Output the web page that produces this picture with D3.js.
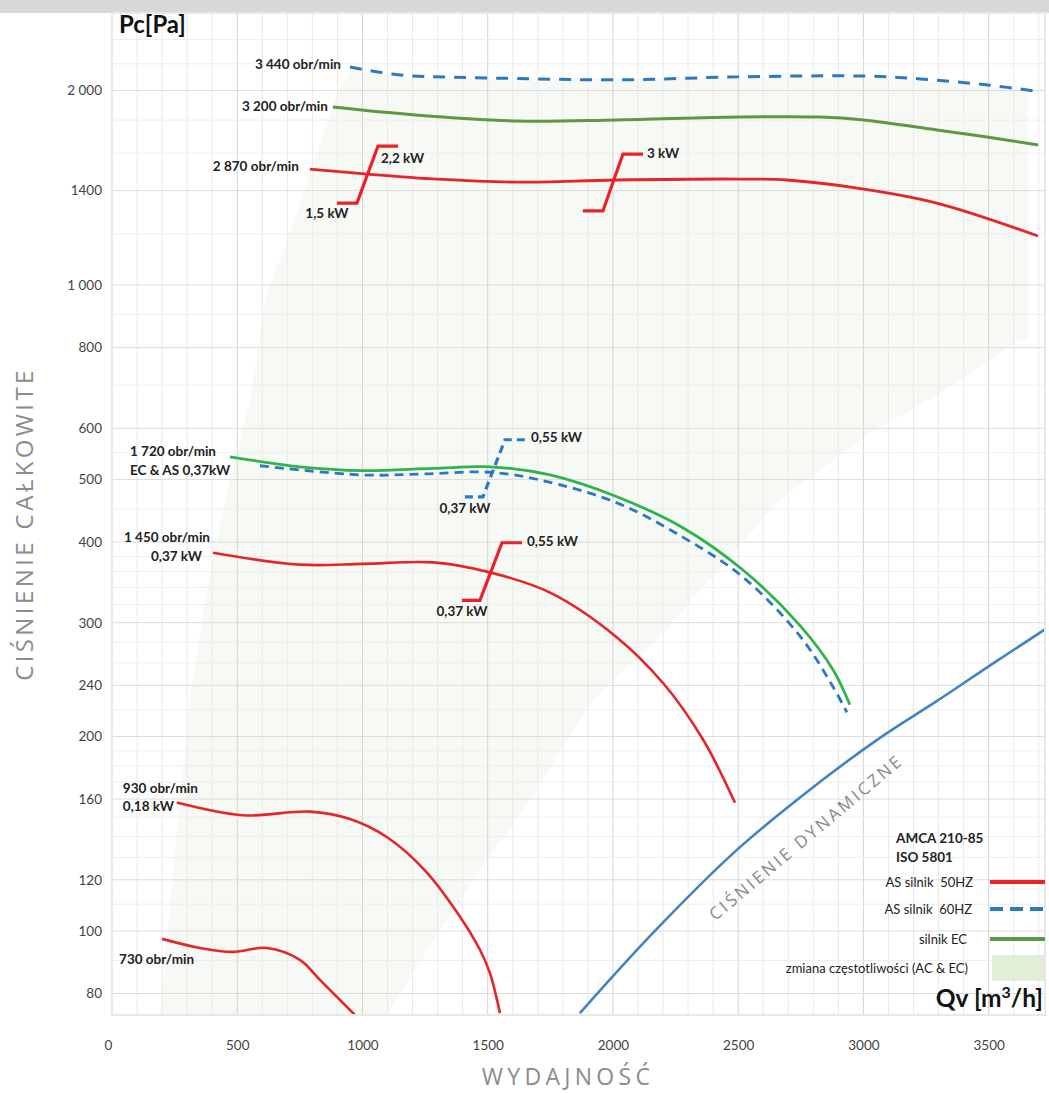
<!DOCTYPE html>
<html>
<head>
<meta charset="utf-8">
<script src="https://cdn.jsdelivr.net/npm/d3@7"></script>
<style>
  html, body { margin: 0; padding: 0; background: #fff; }
  svg { display: block; }
</style>
</head>
<body>
<svg id="chart"></svg>
<script>
// values: Qv [m3/h] and Pc [Pa]
const q3440 = [950, 1150, 1350, 1617, 2016, 2503, 3002, 3226, 3497, 3700];
const p3440 = [2175, 2114, 2098, 2088, 2078, 2100, 2106, 2085, 2040, 1993];

const q3200 = [882, 1200, 1617, 2012, 2503, 2826, 3002, 3293, 3493, 3697];
const p3200 = [1886, 1835, 1794, 1801, 1820, 1820, 1801, 1738, 1695, 1647];

const q2870 = [790, 1018, 1300, 1617, 2012, 2503, 2695, 3002, 3293, 3697];
const p2870 = [1512, 1485, 1458, 1443, 1454, 1459, 1454, 1408, 1339, 1191];

const q1720ec = [471, 750, 1002, 1281, 1509, 1749, 2016, 2279, 2519, 2747, 2878, 2946];
const p1720ec = [542, 523, 516, 520, 523, 508, 470, 421, 362, 297, 254, 224];

const q1720as = [591, 1002, 1250, 1509, 1709, 2016, 2279, 2519, 2747, 2878, 2934];
const p1720as = [525, 508, 510, 513, 499, 460, 407, 353, 286, 239, 218];

const q1450 = [403, 750, 1002, 1281, 1509, 1749, 2010, 2200, 2359, 2487];
const p1450 = [385, 369, 370, 372, 359, 334, 286, 242, 198, 158];

const q930 = [259, 523, 790, 950, 1100, 1250, 1380, 1469, 1509, 1549];
const p930 = [158, 151, 153, 149, 139.5, 124, 106.5, 93.5, 86, 74.6];

const q730 = [200, 351, 483, 619, 750, 830, 970];
const p730 = [97.2, 94.1, 92.8, 94.1, 90.2, 84.0, 74.1];

const qDyn = [1868, 2160, 2495, 2826, 3066, 3294, 3521, 3725];
const pDyn = [74.6, 99.3, 133.5, 170, 199, 227, 260, 293];

// motor power steps
const qStep2870a = [898, 978, 1062, 1142];
const pStep2870a = [1339, 1339, 1641, 1641];
const qStep2870b = [1880, 1960, 2040, 2120];
const pStep2870b = [1302, 1302, 1595, 1595];
const qStep1720 = [1409, 1481, 1569, 1657];
const pStep1720 = [470, 470, 576, 576];
const qStep1450 = [1397, 1469, 1557, 1637];
const pStep1450 = [325, 325, 399, 399];

// frequency-control area (AC & EC)
const qShade = [192, 232, 271, 311, 371, 451, 551, 611, 743, 890, 950, 1150, 1617, 2503, 3002, 3400, 3657,
                3657, 3625, 3305, 3026, 2667, 2200, 1920, 1669, 1389, 1098];
const pShade = [74.1, 111.7, 159.5, 227.9, 325, 465, 664, 948, 1307, 1934, 2150, 2100, 2080, 2092, 2098, 2050, 2000,
                822, 822, 680, 590, 465, 289, 228, 160, 112, 74.1];

// axes
const xTicks = [0, 500, 1000, 1500, 2000, 2500, 3000, 3500];
const yTicks = [80, 100, 120, 160, 200, 240, 300, 400, 500, 600, 800, 1000, 1400, 2000];
const yTickLabels = ["80", "100", "120", "160", "200", "240", "300", "400", "500", "600", "800", "1 000", "1400", "2 000"];
const yMinor = [90, 110, 130, 140, 150, 170, 180, 190, 220, 260, 280, 320, 340, 360, 380, 450, 550, 700, 900, 1200, 1600, 1800, 2200, 2400];

const legendLabels = ["AS silnik  50HZ", "AS silnik  60HZ", "silnik EC", "zmiana częstotliwości (AC & EC)"];

const W = 1049, H = 1093;
const pL = 112, pR = 1045, pT = 13, pB = 1015;

const RED = "#e4262b", BLUE = "#2b79c0", DYN = "#4084c4", GREEN_D = "#5e9842", GREEN_B = "#30b24c";
const SHADE = "#f7faf4";

const svg = d3.select("#chart").attr("width", W).attr("height", H);

const x = d3.scaleLinear().domain([0, 3725]).range([pL, pR]);
const y = d3.scaleLog().domain([74.1, 2637]).range([pB, pT]);

svg.append("defs").append("clipPath").attr("id", "plot")
    .append("rect").attr("x", pL).attr("y", pT).attr("width", pR - pL).attr("height", pB - pT);

// header strip
svg.append("rect").attr("x", 0).attr("y", 0).attr("width", W).attr("height", pT).attr("fill", "#d8d8d8");

const plot = svg.append("g").attr("clip-path", "url(#plot)");

// shaded area
const zip = (qs, ps) => qs.map((q, i) => [q, ps[i]]);
plot.append("path")
    .attr("d", d3.line().x(d => x(d[0])).y(d => y(d[1])).curve(d3.curveLinearClosed)(zip(qShade, pShade)))
    .attr("fill", SHADE);

// grid
plot.append("g").selectAll("line")
    .data(d3.range(100, 3701, 100)).join("line")
    .attr("x1", d => x(d)).attr("x2", d => x(d))
    .attr("y1", pT).attr("y2", pB)
    .attr("stroke", d => d % 500 === 0 ? "#d3d3d3" : "#e9e9e9")
    .attr("stroke-width", 1);

plot.append("g").selectAll("line")
    .data(yMinor).join("line")
    .attr("x1", pL).attr("x2", pR)
    .attr("y1", d => y(d)).attr("y2", d => y(d))
    .attr("stroke", "#ededed");

plot.append("g").selectAll("line")
    .data(yTicks).join("line")
    .attr("x1", pL).attr("x2", pR)
    .attr("y1", d => y(d)).attr("y2", d => y(d))
    .attr("stroke", "#dcdcdc");

svg.append("rect").attr("x", pL).attr("y", pT).attr("width", pR - pL).attr("height", pB - pT)
    .attr("fill", "none").attr("stroke", "#e8e8e8").attr("stroke-width", 2);

// curves
const smooth = d3.line().x(d => x(d[0])).y(d => y(d[1])).curve(d3.curveCatmullRom.alpha(0.5));
const straight = d3.line().x(d => x(d[0])).y(d => y(d[1]));

const curves = [
    { d: zip(qDyn, pDyn), color: DYN, w: 2.6 },
    { d: zip(q3440, p3440), color: BLUE, w: 3, dash: "12,9" },
    { d: zip(q3200, p3200), color: GREEN_D, w: 3 },
    { d: zip(q2870, p2870), color: RED, w: 2.8 },
    { d: zip(q1720ec, p1720ec), color: GREEN_B, w: 2.8 },
    { d: zip(q1720as, p1720as), color: BLUE, w: 2.8, dash: "9,6" },
    { d: zip(q1450, p1450), color: RED, w: 2.6 },
    { d: zip(q930, p930), color: RED, w: 2.6 },
    { d: zip(q730, p730), color: RED, w: 2.6 }
];

plot.append("g").selectAll("path")
    .data(curves).join("path")
    .attr("d", c => smooth(c.d))
    .attr("fill", "none")
    .attr("stroke", c => c.color)
    .attr("stroke-width", c => c.w)
    .attr("stroke-dasharray", c => c.dash || null)
    .attr("stroke-linecap", "butt");

const steps = [
    { d: zip(qStep2870a, pStep2870a), color: "#ee1f26", dash: null },
    { d: zip(qStep2870b, pStep2870b), color: "#ee1f26", dash: null },
    { d: zip(qStep1720, pStep1720), color: BLUE, dash: "8,5" },
    { d: zip(qStep1450, pStep1450), color: "#ee1f26", dash: null }
];

plot.append("g").selectAll("path")
    .data(steps).join("path")
    .attr("d", s => straight(s.d))
    .attr("fill", "none")
    .attr("stroke", s => s.color)
    .attr("stroke-width", 3.2)
    .attr("stroke-dasharray", s => s.dash);

// curve labels, anchored on the curve / step points
const labels = [
    { t: "3 440 obr/min", at: [q3440[0], p3440[0]], dx: -9, dy: -3, a: "end" },
    { t: "3 200 obr/min", at: [q3200[0], p3200[0]], dx: -5, dy: -1, a: "end" },
    { t: "2 870 obr/min", at: [q2870[0], p2870[0]], dx: -11, dy: -3, a: "end" },
    { t: "2,2 kW", at: [qStep2870a[2], pStep2870a[2]], dx: 3, dy: 12, a: "start" },
    { t: "1,5 kW", at: [qStep2870a[0], pStep2870a[0]], dx: -10, dy: 10, a: "middle" },
    { t: "3 kW", at: [qStep2870b[3], pStep2870b[3]], dx: 4, dy: -1, a: "start" },
    { t: "1 720 obr/min", at: [q1720ec[0], p1720ec[0]], dx: -100, dy: -6, a: "start" },
    { t: "EC & AS 0,37kW", at: [q1720ec[0], p1720ec[0]], dx: -100, dy: 13, a: "start" },
    { t: "0,55 kW", at: [qStep1720[3], pStep1720[3]], dx: 4, dy: -3, a: "start" },
    { t: "0,37 kW", at: [qStep1720[0], pStep1720[0]], dx: 0, dy: 11, a: "middle" },
    { t: "1 450 obr/min", at: [q1450[0], p1450[0]], dx: -89, dy: -16, a: "start" },
    { t: "0,37 kW", at: [q1450[0], p1450[0]], dx: -11, dy: 3, a: "end" },
    { t: "0,55 kW", at: [qStep1450[3], pStep1450[3]], dx: 5, dy: -2, a: "start" },
    { t: "0,37 kW", at: [qStep1450[0], pStep1450[0]], dx: 0, dy: 11, a: "middle" },
    { t: "930 obr/min", at: [q930[0], p930[0]], dx: -54, dy: -15, a: "start" },
    { t: "0,18 kW", at: [q930[0], p930[0]], dx: -54, dy: 3, a: "start" },
    { t: "730 obr/min", at: [q730[0], p730[0]], dx: -43, dy: 20, a: "start" }
];

svg.append("g").selectAll("text")
    .data(labels).join("text")
    .attr("x", l => x(l.at[0]) + l.dx)
    .attr("y", l => y(l.at[1]) + l.dy)
    .attr("text-anchor", l => l.a)
    .attr("dominant-baseline", "central")
    .attr("font-family", "Lato, 'Open Sans', sans-serif")
    .attr("font-weight", "bold")
    .attr("font-size", 13.5)
    .attr("fill", "#222")
    .text(l => l.t);

// dynamic pressure label along the curve
svg.append("text")
    .attr("transform", `translate(${x(2770)},${y(163) + 43}) rotate(-40)`)
    .attr("text-anchor", "middle")
    .attr("dominant-baseline", "central")
    .attr("font-family", "'Open Sans', sans-serif")
    .attr("font-size", 17)
    .attr("letter-spacing", 2.8)
    .attr("fill", "#8a8a8a")
    .text("CIŚNIENIE DYNAMICZNE");

// axes
const yAxis = svg.append("g")
    .attr("transform", `translate(${pL - 10},0)`)
    .call(d3.axisLeft(y).tickValues(yTicks).tickSize(0).tickPadding(0)
        .tickFormat((d, i) => yTickLabels[i]));
yAxis.select(".domain").remove();
yAxis.selectAll("text").attr("font-family", "Lato, sans-serif").attr("font-size", 13.5).attr("fill", "#444");

const xAxis = svg.append("g")
    .attr("transform", `translate(0,${pB})`)
    .call(d3.axisBottom(x).tickValues(xTicks).tickSize(0).tickPadding(25).tickFormat(d3.format("d")));
xAxis.select(".domain").remove();
xAxis.selectAll("text").attr("font-family", "Lato, sans-serif").attr("font-size", 13.5).attr("fill", "#444")
    .attr("dx", d => d === 0 ? -4 : 0);

// titles
svg.append("text").attr("x", 119).attr("y", 33)
    .attr("font-family", "Lato, sans-serif").attr("font-weight", "bold").attr("font-size", 24)
    .attr("fill", "#111").text("Pc[Pa]");

const qv = svg.append("text").attr("x", 1043).attr("y", 1007).attr("text-anchor", "end")
    .attr("font-family", "Lato, sans-serif").attr("font-weight", "bold").attr("font-size", 24.5)
    .attr("fill", "#111");
qv.append("tspan").text("Qv [m");
qv.append("tspan").attr("baseline-shift", "super").attr("font-size", 16).text("3");
qv.append("tspan").text("/h]");

svg.append("text")
    .attr("transform", `translate(33,524) rotate(-90)`)
    .attr("text-anchor", "middle")
    .attr("font-family", "'Open Sans', sans-serif").attr("font-size", 24)
    .attr("letter-spacing", 3.4)
    .attr("fill", "#8c8c8c").text("CIŚNIENIE CAŁKOWITE");

svg.append("text")
    .attr("x", 568).attr("y", 1085).attr("text-anchor", "middle")
    .attr("font-family", "'Open Sans', sans-serif").attr("font-size", 23)
    .attr("letter-spacing", 4.3)
    .attr("fill", "#8c8c8c").text("WYDAJNOŚĆ");

// legend
const lg = svg.append("g").attr("font-family", "Lato, sans-serif").attr("fill", "#222");
lg.append("text").attr("x", 896).attr("y", 843).attr("font-weight", "bold").attr("font-size", 13.5).text("AMCA 210-85");
lg.append("text").attr("x", 896).attr("y", 862).attr("font-weight", "bold").attr("font-size", 13.5).text("ISO 5801");

const legendRows = [
    { t: legendLabels[0], yy: 882, tx: 973, kind: "line", color: RED },
    { t: legendLabels[1], yy: 909, tx: 972, kind: "dash", color: BLUE },
    { t: legendLabels[2], yy: 939, tx: 967, kind: "line", color: GREEN_D },
    { t: legendLabels[3], yy: 968, tx: 968, kind: "area", color: "#e3eed9" }
];

legendRows.forEach(r => {
    lg.append("text").attr("x", r.tx).attr("y", r.yy).attr("dominant-baseline", "central")
        .attr("text-anchor", "end").attr("font-size", 13).style("white-space", "pre").text(r.t);
    if (r.kind === "area") {
        lg.append("rect").attr("x", 992).attr("y", r.yy - 13).attr("width", 52).attr("height", 26).attr("fill", r.color);
    } else {
        lg.append("line").attr("x1", 990).attr("x2", 1045).attr("y1", r.yy).attr("y2", r.yy)
            .attr("stroke", r.color).attr("stroke-width", 4)
            .attr("stroke-dasharray", r.kind === "dash" ? "13,7" : null);
    }
});
</script>
</body>
</html>
